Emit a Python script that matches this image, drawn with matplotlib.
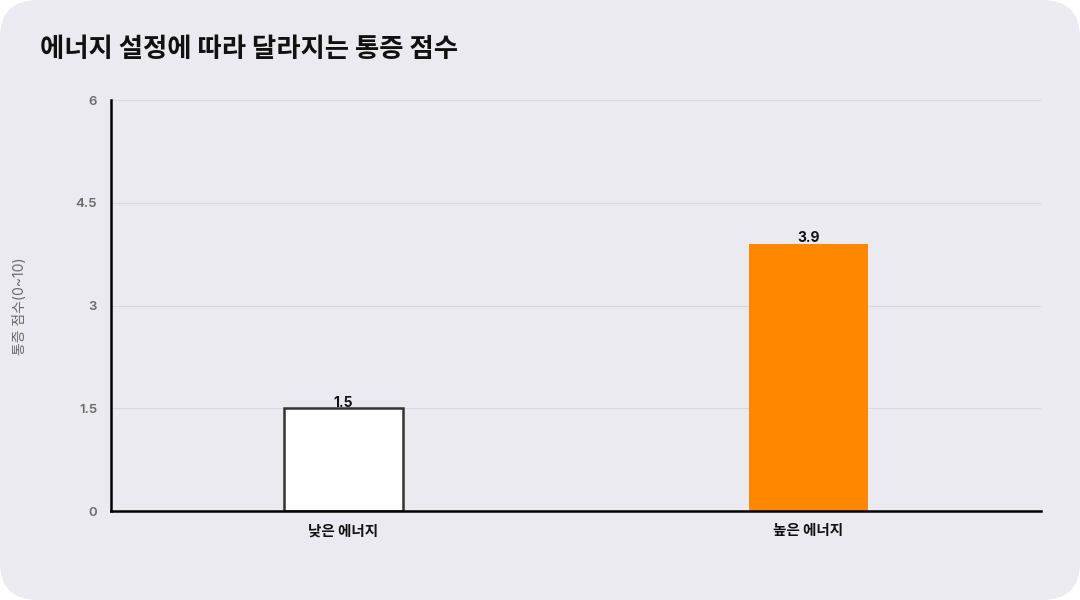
import matplotlib
matplotlib.use("Agg")
import matplotlib.pyplot as plt
from matplotlib.patches import FancyBboxPatch

categories = ["낮은 에너지", "높은 에너지"]
values = [1.5, 3.9]
bar_colors = ["#ffffff", "#ff8800"]
edge_colors = ["#333333", "#ff8800"]
yticks = [0, 1.5, 3, 4.5, 6]
ytick_labels = ["0", "1.5", "3", "4.5", "6"]
title = "에너지 설정에 따라 달라지는 통증 점수"
ylabel = "통증 점수(0~10)"

plt.rcParams['font.family'] = ['Inter', 'Noto Sans CJK KR', 'DejaVu Sans']

fig = plt.figure(figsize=(10.8, 6), dpi=100)
fig.patch.set_facecolor("white")
bg = FancyBboxPatch((0, 0), 1, 1, boxstyle="round,pad=0,rounding_size=0.035",
                    transform=fig.transFigure, facecolor="#ebeaf0", edgecolor="none",
                    mutation_aspect=1.8, zorder=-10)
fig.patches.append(bg)

ax = fig.add_axes([0.1028, 0.1483, 0.8611, 0.685])
ax.set_facecolor("none")
x = list(range(len(categories)))
bars = ax.bar(x, values, width=0.255, color=bar_colors, edgecolor=edge_colors,
              linewidth=[1.8, 0], zorder=3)
for xi, v in zip(x, values):
    ax.text(xi, v - 0.02, f"{v}", ha="center", va="bottom", fontsize=10, fontweight="bold",
            color="#111111", zorder=4, family=['Inter', 'Noto Sans CJK KR'])

ax.set_xlim(-0.5, 1.5)
ax.set_ylim(0, 6)
ax.set_yticks(yticks)
ax.set_yticklabels(ytick_labels, fontweight="semibold")
ax.set_xticks(x)
ax.set_xticklabels(categories, family=['Noto Sans CJK KR'], fontsize=10.5, color="#111111",
                   fontweight="bold")
ax.tick_params(axis="y", length=0, pad=10, labelsize=9.5, labelcolor="#6a6a6a")
ax.tick_params(axis="x", length=0, pad=8)
ax.grid(axis="y", color="#d8d8de", linewidth=0.8, zorder=0)
for s in ["top", "right"]:
    ax.spines[s].set_visible(False)
for s in ["left", "bottom"]:
    ax.spines[s].set_color("#000000")
    ax.spines[s].set_linewidth(1.8)
ax.spines["bottom"].set_zorder(5)

fig.text(0.0185, 0.49, ylabel, rotation=90, ha="center", va="center", fontsize=10,
         color="#6a6a6a", family=['Inter', 'Noto Sans CJK KR', 'DejaVu Sans'])
fig.text(0.037, 0.917, title, ha="left", va="center", fontsize=19, fontweight="bold",
         color="#111111", family=['Noto Sans CJK KR'])

fig.savefig("out.png", dpi=100, facecolor=fig.get_facecolor())
